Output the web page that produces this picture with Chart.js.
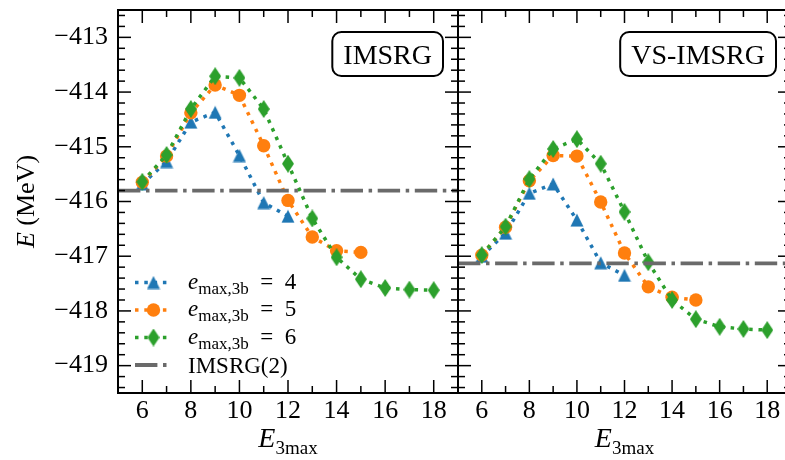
<!DOCTYPE html>
<html>
<head>
<meta charset="utf-8">
<script src="https://cdn.jsdelivr.net/npm/chart.js@4.4.0/dist/chart.umd.min.js"></script>
<style>
html, body { margin: 0; padding: 0; background: #fff; overflow: hidden; }
#wrap { position: relative; width: 785px; height: 460px; overflow: hidden; background: #fff; }
#c1 { position: absolute; left: 0; top: 0; }
#c2 { position: absolute; left: 446px; top: 0; }
</style>
</head>
<body>
<div id="wrap">
  <canvas id="c1" width="470" height="460"></canvas>
  <canvas id="c2" width="352" height="460"></canvas>
</div>
<script>
// E3max values on the x axis
const e3max = [6, 7, 8, 9, 10, 11, 12, 13, 14, 15, 16, 17, 18];
const xTicks = [6, 8, 10, 12, 14, 16, 18];
const yTicks = [-419, -418, -417, -416, -415, -414, -413];
const emax3b = ['4', '5', '6'];

// IMSRG panel (MeV)
const imsrgE4 = [-415.68, -415.27, -414.55, -414.37, -415.16, -416.02, -416.27];
const imsrgE5 = [-415.65, -415.17, -414.38, -413.87, -414.06, -414.98, -415.98, -416.65, -416.90, -416.93];
const imsrgE6 = [-415.64, -415.15, -414.31, -413.71, -413.74, -414.31, -415.31, -416.31, -417.02, -417.42, -417.58, -417.61, -417.62];
const imsrg2Left = -415.80;

// VS-IMSRG panel (MeV)
const vsE4 = [-417.00, -416.58, -415.85, -415.68, -416.34, -417.12, -417.35];
const vsE5 = [-416.98, -416.47, -415.62, -415.16, -415.17, -416.01, -416.94, -417.56, -417.75, -417.80];
const vsE6 = [-416.98, -416.46, -415.59, -415.04, -414.86, -415.31, -416.19, -417.11, -417.80, -418.15, -418.29, -418.33, -418.35];
const imsrg2Right = -417.13;

const xMin = 5, xMax = 19, yMin = -419.5, yMax = -412.5;
const serif = '"Liberation Serif", "Times New Roman", serif';
const blue = '#1f77b4', orange = '#ff7f0e', green = '#2ca02c', gray = '#6a6a6a';

function markerImage(kind, color) {
  const c = document.createElement('canvas');
  const g = c.getContext('2d');
  if (kind === 'tri') {
    c.width = 14; c.height = 14;
    g.fillStyle = color;
    g.beginPath(); g.moveTo(7, 0.5); g.lineTo(13.5, 13.5); g.lineTo(0.5, 13.5); g.closePath(); g.fill();
  } else {
    c.width = 12; c.height = 18;
    g.fillStyle = color;
    g.beginPath(); g.moveTo(6, 0); g.lineTo(12, 9); g.lineTo(6, 18); g.lineTo(0, 9); g.closePath(); g.fill();
  }
  return c;
}

const styles = [
  { color: blue, point: markerImage('tri', blue), radius: 7 },
  { color: orange, point: 'circle', radius: 6.7 },
  { color: green, point: markerImage('dia', green), radius: 7 }
];
const dotDash = [3.5, 5.8];
const dashDot = [22.4, 5.6, 3.5, 5.6];

function panelDatasets(series, ref) {
  const sets = series.map((vals, i) => ({
    data: vals.map((v, j) => ({ x: e3max[j], y: v })),
    borderColor: styles[i].color,
    backgroundColor: styles[i].color,
    borderWidth: 3.5,
    borderDash: dotDash,
    pointStyle: styles[i].point,
    pointRadius: styles[i].radius,
    pointBorderWidth: 0,
    order: 4 - i
  }));
  sets.push({
    data: [{ x: xMin, y: ref }, { x: xMax, y: ref }],
    borderColor: gray,
    borderWidth: 3.8,
    borderDash: dashDot,
    pointRadius: 0,
    order: 1
  });
  return sets;
}

function runs(ctx, parts, x0, y0) {
  let x = x0;
  for (const [t, f, dy] of parts) {
    ctx.font = f;
    ctx.fillText(t, x, y0 + dy);
    x += ctx.measureText(t).width;
  }
}
function runsWidth(ctx, parts) {
  let w = 0;
  for (const [t, f] of parts) { ctx.font = f; w += ctx.measureText(t).width; }
  return w;
}

const frame = {
  id: 'frame',
  afterDraw(chart, args, o) {
    const { ctx, chartArea: a } = chart;
    const x = chart.scales.x, y = chart.scales.y;
    ctx.save();
    ctx.setLineDash([]);
    ctx.strokeStyle = '#000';
    ctx.fillStyle = '#000';
    ctx.lineWidth = 1.5;
    const seg = (x0, y0, x1, y1) => { ctx.beginPath(); ctx.moveTo(x0, y0); ctx.lineTo(x1, y1); ctx.stroke(); };
    for (let k = Math.ceil(x.min); k <= Math.floor(x.max); k++) {
      if (k <= x.min || k >= x.max) continue;
      const len = xTicks.includes(k) ? 13 : 7;
      const p = x.getPixelForValue(k);
      seg(p, a.bottom, p, a.bottom - len);
      seg(p, a.top, p, a.top + len);
    }
    for (let k = Math.ceil(y.min * 5); k <= Math.floor(y.max * 5); k++) {
      const v = k / 5;
      if (v <= y.min || v >= y.max) continue;
      const len = k % 5 === 0 ? 13 : 7;
      const p = y.getPixelForValue(v);
      seg(a.left, p, a.left + len, p);
      seg(a.right, p, a.right - len, p);
    }
    ctx.lineWidth = 2;
    ctx.strokeRect(a.left, a.top, a.right - a.left, a.bottom - a.top);

    // x title
    ctx.textBaseline = 'alphabetic';
    ctx.textAlign = 'left';
    const xt = [['E', 'italic 28px ' + serif, 0], ['3max', '19px ' + serif, 7]];
    runs(ctx, xt, (a.left + a.right) / 2 - runsWidth(ctx, xt) / 2, 447);

    // panel label
    ctx.font = '28px ' + serif;
    const tw = ctx.measureText(o.label).width;
    const bw = tw + 22, bh = 44, bx = a.right - 15 - bw, by = a.top + 22;
    ctx.beginPath();
    ctx.roundRect(bx, by, bw, bh, 9);
    ctx.fillStyle = '#fff';
    ctx.fill();
    ctx.stroke();
    ctx.fillStyle = '#000';
    ctx.textAlign = 'center';
    ctx.fillText(o.label, bx + bw / 2, by + bh / 2 + 9.5);
    ctx.textAlign = 'left';

    if (o.yTitle) {
      const yt = [['E', 'italic 26px ' + serif, 0], [' (MeV)', '26px ' + serif, 0]];
      ctx.save();
      ctx.translate(26, (a.top + a.bottom) / 2);
      ctx.rotate(-Math.PI / 2);
      runs(ctx, yt, -runsWidth(ctx, yt) / 2, 8);
      ctx.restore();
    }

    if (o.legend) {
      const x0 = a.left + 17, x1 = x0 + 37, tx = a.left + 70;
      const rows = [a.bottom - 110.5, a.bottom - 83, a.bottom - 55.5, a.bottom - 28];
      styles.forEach((s, i) => {
        const cy = rows[i];
        ctx.strokeStyle = s.color;
        ctx.lineWidth = 3.5;
        ctx.setLineDash(dotDash);
        seg(x0, cy, x1, cy);
        ctx.setLineDash([]);
        const cx = (x0 + x1) / 2;
        if (s.point === 'circle') {
          ctx.fillStyle = s.color;
          ctx.beginPath(); ctx.arc(cx, cy, s.radius, 0, Math.PI * 2); ctx.fill();
        } else {
          ctx.drawImage(s.point, cx - s.point.width / 2, cy - s.point.height / 2);
        }
        ctx.fillStyle = '#000';
        runs(ctx, [['e', 'italic 23px ' + serif, 0], ['max,3b', '17px ' + serif, 5], ['\u2002=\u2002' + emax3b[i], '23px ' + serif, 0]], tx, cy + 6);
      });
      const cy = rows[3];
      ctx.strokeStyle = gray;
      ctx.lineWidth = 3.8;
      ctx.setLineDash(dashDot);
      seg(x0, cy, x1, cy);
      ctx.setLineDash([]);
      ctx.fillStyle = '#000';
      ctx.font = '23px ' + serif;
      ctx.fillText('IMSRG(2)', tx, cy + 8);
    }
    ctx.restore();
  }
};

function makeChart(id, series, ref, label, left) {
  return new Chart(document.getElementById(id), {
    type: 'line',
    data: { datasets: panelDatasets(series, ref) },
    options: {
      responsive: false,
      animation: false,
      events: [],
      layout: { padding: { left: left ? 0 : 12, right: left ? 12 : 0, top: 10, bottom: 0 } },
      plugins: {
        legend: { display: false },
        tooltip: { enabled: false },
        frame: { label: label, yTitle: left, legend: left }
      },
      scales: {
        x: {
          type: 'linear', min: xMin, max: xMax,
          grid: { display: false, drawTicks: false },
          border: { display: false },
          ticks: { color: '#000', font: { family: serif, size: 26 }, padding: 3, maxRotation: 0 },
          afterBuildTicks: s => { s.ticks = xTicks.map(v => ({ value: v })); },
          afterFit: s => { s.height = 67; s.paddingLeft = 0; s.paddingRight = 0; }
        },
        y: {
          type: 'linear', min: yMin, max: yMax,
          display: left,
          grid: { display: false, drawTicks: false },
          border: { display: false },
          ticks: {
            color: '#000', font: { family: serif, size: 26 }, padding: 10,
            callback: v => '\u2212' + Math.abs(v)
          },
          afterBuildTicks: s => { s.ticks = yTicks.map(v => ({ value: v })); },
          afterFit: s => { s.width = left ? 118 : 0; s.paddingTop = 0; s.paddingBottom = 0; }
        }
      }
    },
    plugins: [frame]
  });
}

makeChart('c1', [imsrgE4, imsrgE5, imsrgE6], imsrg2Left, 'IMSRG', true);
makeChart('c2', [vsE4, vsE5, vsE6], imsrg2Right, 'VS-IMSRG', false);
</script>
</body>
</html>
